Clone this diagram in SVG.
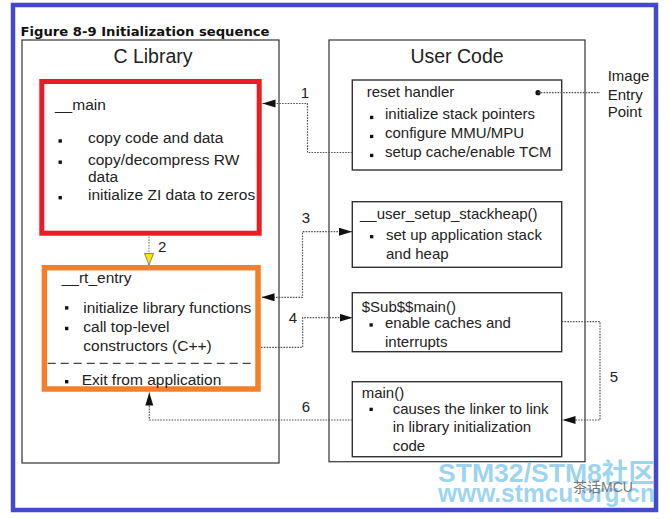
<svg xmlns="http://www.w3.org/2000/svg" width="669" height="519" viewBox="0 0 669 519">
<style>
text{font-family:"Liberation Sans",Arial,sans-serif;fill:#222;font-size:15px}
.t{font-family:"DejaVu Sans",Verdana,sans-serif;font-weight:bold;font-size:13px;fill:#111}
.hd{font-size:19.5px;text-anchor:middle}
.box{fill:#fff;stroke:#333;stroke-width:1.4}
.big{fill:#fff;stroke:#333;stroke-width:1.2}
.bul{fill:#111}
.con{fill:none;stroke:#555;stroke-width:1.2;stroke-dasharray:1.6 1.2}
.lbl{text-anchor:middle}
.wm{font-weight:bold;fill:#8ccdee;fill-opacity:0.85;font-family:"Liberation Sans","Noto Sans CJK SC",sans-serif}
</style>
<defs>
<marker id="ah" markerUnits="userSpaceOnUse" markerWidth="14" markerHeight="9" refX="13" refY="4" orient="auto-start-reverse" viewBox="0 0 14 9">
<path d="M0,0 L13,4 L0,8 z" fill="#111"/>
</marker>
<marker id="ay" markerUnits="userSpaceOnUse" markerWidth="14" markerHeight="10" refX="12" refY="5" orient="auto" viewBox="0 0 14 10">
<path d="M0.5,0.5 L12,5 L0.5,9.5 z" fill="#ffe800" stroke="#666" stroke-width="0.8"/>
</marker>
</defs>
<rect x="0" y="0" width="669" height="519" fill="#fff"/>
<rect x="13" y="5" width="643" height="505" fill="#fff" stroke="#4348cc" stroke-width="4.5"/>
<text class="t" x="20.5" y="36" textLength="249" lengthAdjust="spacingAndGlyphs">Figure 8-9 Initialization sequence</text>

<g id="clib">
<rect class="big" x="22" y="40" width="257" height="423"/>
<text class="hd" x="153" y="63">C Library</text>
</g>
<g id="main_lib">
<rect x="41.8" y="81.5" width="217.4" height="151.7" fill="#fff" stroke="#ec1c24" stroke-width="5"/>
<text x="55" y="110" style="font-size:15.5px">__main</text>
<rect class="bul" x="58.5" y="139.3" width="3.4" height="3.4"/>
<rect class="bul" x="58.5" y="160.5" width="3.4" height="3.4"/>
<rect class="bul" x="58.5" y="196" width="3.4" height="3.4"/>
<text x="88" y="143.3" style="font-size:15.5px">copy code and data</text>
<text x="88" y="165" style="font-size:15.5px">copy/decompress RW</text>
<text x="88" y="182" style="font-size:15.5px">data</text>
<text x="88" y="200" style="font-size:15.5px">initialize ZI data to zeros</text>
</g>
<g id="rt_entry">
<rect x="44.4" y="267.7" width="213.6" height="121.3" fill="#fff" stroke="#f57f29" stroke-width="5.5"/>
<text x="61.7" y="283.3" style="font-size:15.5px">__rt_entry</text>
<rect class="bul" x="65" y="306.2" width="3.4" height="3.4"/>
<rect class="bul" x="65" y="326.8" width="3.4" height="3.4"/>
<text x="83.3" y="312.7" style="font-size:15.5px">initialize library functions</text>
<text x="83.3" y="332" style="font-size:15.5px">call top-level</text>
<text x="83.3" y="351" style="font-size:15.5px">constructors (C++)</text>
<line x1="47.7" y1="363.3" x2="255" y2="363.3" stroke="#444" stroke-width="1.3" stroke-dasharray="8 5"/>
<rect class="bul" x="65" y="380" width="3.4" height="3.4"/>
<text x="81.7" y="385" style="font-size:15.5px">Exit from application</text>
</g>

<g id="ucode">
<rect class="big" x="329" y="40" width="256" height="421.7"/>
<text class="hd" x="457" y="63">User Code</text>
</g>
<g id="reset">
<rect class="box" x="352.3" y="80" width="209.4" height="90"/>
<text x="366.7" y="97.3">reset handler</text>
<rect class="bul" x="370" y="115.8" width="3.3" height="3.3"/>
<rect class="bul" x="370" y="134.8" width="3.3" height="3.3"/>
<rect class="bul" x="370" y="153.8" width="3.3" height="3.3"/>
<text x="385" y="119.3">initialize stack pointers</text>
<text x="385" y="138.3">configure MMU/MPU</text>
<text x="385" y="157.3">setup cache/enable TCM</text>
</g>
<g id="stackheap">
<rect class="box" x="352.3" y="201.7" width="209.4" height="65.6"/>
<text x="360" y="219.3">__user_setup_stackheap()</text>
<rect class="bul" x="370" y="235" width="3.3" height="3.3"/>
<text x="386" y="240">set up application stack</text>
<text x="386" y="259.3">and heap</text>
</g>
<g id="submain">
<rect class="box" x="352.3" y="292.7" width="209.4" height="59"/>
<text x="361.7" y="311.7">$Sub$$main()</text>
<rect class="bul" x="369.5" y="323.3" width="3.3" height="3.3"/>
<text x="385" y="328.3">enable caches and</text>
<text x="385" y="346.7">interrupts</text>
</g>
<g id="mainfn">
<rect class="box" x="352.3" y="381.7" width="209.4" height="75"/>
<text x="361.7" y="398.3">main()</text>
<rect class="bul" x="369.5" y="407.7" width="3.3" height="3.3"/>
<text x="392.7" y="414">causes the linker to link</text>
<text x="392.7" y="432.3">in library initialization</text>
<text x="392.7" y="450.7">code</text>
</g>
<g id="entry">
<text x="607.7" y="80.7">Image</text>
<text x="607.7" y="100">Entry</text>
<text x="607.7" y="117.3">Point</text>
</g>

<g id="connectors">
<circle cx="538" cy="92.7" r="2.6" fill="#111"/>
<line class="con" x1="538" y1="92.7" x2="600" y2="92.7"/>
<path class="con" d="M352.3,152.5 H307.5 V103.5 H262.5" marker-end="url(#ah)"/>
<path d="M149,236.5 V265" fill="none" stroke="#8a8a70" stroke-width="1.2" stroke-dasharray="1.6 1.2" marker-end="url(#ay)"/>
<path class="con" d="M352,231.7 H302.5 V297.3 H261.5" marker-start="url(#ah)" marker-end="url(#ah)"/>
<path class="con" d="M261,347.3 H302.7 V317.7 H352.5" marker-end="url(#ah)"/>
<path class="con" d="M561.7,321.7 H600 V420 H562.5" marker-end="url(#ah)"/>
<path class="con" d="M352.3,420 H149.3 V392.5" marker-end="url(#ah)"/>
<text class="lbl" x="305" y="97.7">1</text>
<text x="158" y="252">2</text>
<text class="lbl" x="306" y="223">3</text>
<text class="lbl" x="293" y="322.7">4</text>
<text class="lbl" x="614" y="381.7">5</text>
<text class="lbl" x="306" y="412">6</text>
</g>

<g id="watermark">
<text class="wm" x="438" y="482" style="font-size:26px" textLength="217" lengthAdjust="spacingAndGlyphs">STM32/STM8社区</text>
<text class="wm" x="438" y="502" style="font-size:25px" textLength="217" lengthAdjust="spacingAndGlyphs">www.stmcu.org.cn</text>
<text x="573" y="492" style="font-size:14px;fill:#777;font-family:'Liberation Sans','Noto Sans CJK SC',sans-serif">茶话MCU</text>
</g>
</svg>
